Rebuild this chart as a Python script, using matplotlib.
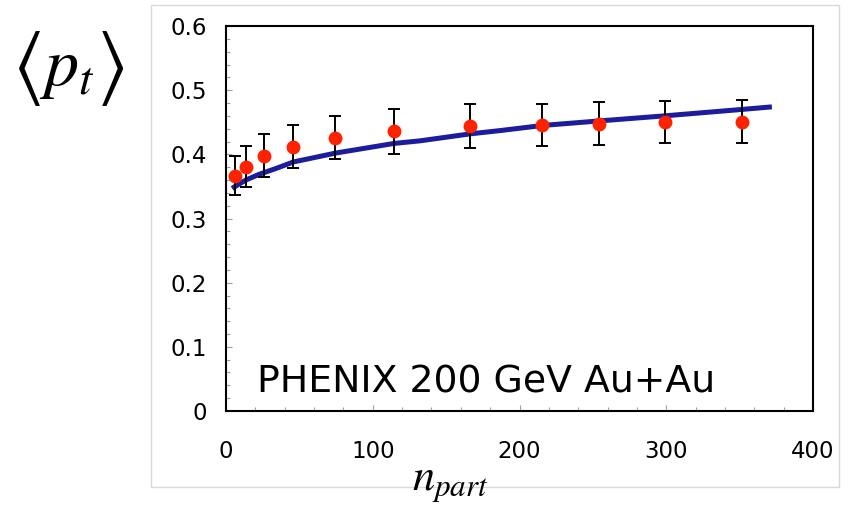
import matplotlib
matplotlib.use("Agg")
import matplotlib.pyplot as plt
from matplotlib.patches import Rectangle
from matplotlib.ticker import MultipleLocator

plt.rcParams["mathtext.fontset"] = "stix"

# PHENIX data points: mean pt vs number of participants
npart = [6.3, 13.4, 25.7, 45.5, 74.4, 114.2, 166.6, 215.3, 253.9, 299.0, 351.4]
mean_pt = [0.367, 0.381, 0.398, 0.412, 0.426, 0.436, 0.444, 0.446, 0.448, 0.450, 0.451]
pt_err = [0.030, 0.032, 0.034, 0.034, 0.034, 0.035, 0.034, 0.033, 0.033, 0.033, 0.033]

# model curve
curve_x = [4.1, 9.1, 13.6, 22.7, 34.1, 45.7, 74.7, 114.5, 132, 166.7, 186.7, 215.6, 254, 299, 351.6, 372]
curve_y = [0.347, 0.354, 0.360, 0.369, 0.378, 0.388, 0.402, 0.417, 0.421, 0.432, 0.437, 0.445, 0.452, 0.460, 0.470, 0.474]

fig = plt.figure(figsize=(8.52, 5.11), dpi=100)
fig.patches.append(Rectangle((0.1772, 0.047), 0.8075, 0.943, transform=fig.transFigure,
                             fill=False, edgecolor="#d9d9d9", linewidth=1.0))

ax = fig.add_axes([0.2653, 0.1957, 0.6889, 0.7534])

ax.plot(curve_x, curve_y, color="#1c1c9c", linewidth=3.6, solid_capstyle="butt",
        solid_joinstyle="round", zorder=2)
ax.errorbar(npart, mean_pt, yerr=pt_err, fmt="none", ecolor="black", elinewidth=1.4,
            capsize=4.3, capthick=1.4, zorder=3)
ax.plot(npart, mean_pt, "o", color="#ff2200", markersize=10, markeredgewidth=0, zorder=4)

ax.set_xlim(0, 400)
ax.set_ylim(0, 0.6)
ax.xaxis.set_major_locator(MultipleLocator(100))
ax.xaxis.set_minor_locator(MultipleLocator(20))
ax.yaxis.set_minor_locator(MultipleLocator(0.02))
ax.set_yticks([0, 0.1, 0.2, 0.3, 0.4, 0.5, 0.6])
ax.set_yticklabels(["0", "0.1", "0.2", "0.3", "0.4", "0.5", "0.6"])

ax.tick_params(which="both", direction="in", color="#a0a0a0", width=0.8, labelsize=16.5)
ax.tick_params(which="major", length=4.5)
ax.tick_params(which="minor", length=3)
ax.tick_params(axis="x", which="major", pad=21)
ax.tick_params(axis="y", which="major", pad=14)
for s in ax.spines.values():
    s.set_linewidth(1.5)

ax.text(0.0528, 0.049, "PHENIX 200 GeV Au+Au", transform=ax.transAxes,
        fontsize=27.2, ha="left", va="baseline")

# y label: tall angle brackets around p_t
fig.text(0.031, 0.866, r"$\langle$", fontsize=58, ha="center", va="center")
fig.text(0.0785, 0.834, r"$p_t$", fontsize=49, ha="center", va="baseline")
fig.text(0.129, 0.866, r"$\rangle$", fontsize=58, ha="center", va="center")

fig.text(0.529, 0.041, r"$n_{part}$", fontsize=32, ha="center", va="baseline")

fig.savefig("out.png", dpi=100)
